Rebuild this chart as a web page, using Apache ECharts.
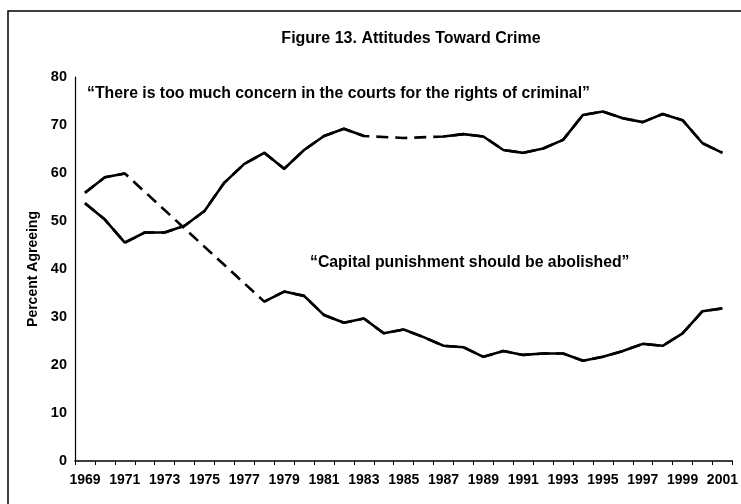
<!DOCTYPE html>
<html>
<head>
<meta charset="utf-8">
<script src="https://cdn.jsdelivr.net/npm/echarts@6/dist/echarts.min.js"></script>
<style>
  html, body { margin: 0; padding: 0; background: #fff; }
  #chart { width: 741px; height: 504px; }
</style>
</head>
<body>
<div id="chart"></div>
<script>
// years on the x axis
var years = []
for (var y = 1969; y <= 2001; y++) years.push(String(y))

// "too much concern in the courts for the rights of criminals" (null = no survey that year)
var courts = [53.7, 50.3, 45.5, 47.6, 47.6, 49.0, 52.1, 58.0, 61.9, 64.2, 60.9, 64.8, 67.7, 69.2, 67.7,
  null, 67.3, null, 67.6, 68.1, 67.6, 64.8, 64.2, 65.1, 66.9, 72.1, 72.8, 71.4, 70.6, 72.3, 71.0, 66.2, 64.2]

// "capital punishment should be abolished"
var capital = [55.9, 59.1, 59.9, null, null, null, null, null, null, 33.2, 35.3, 34.4, 30.4, 28.8, 29.7,
  26.6, 27.4, 25.8, 24.0, 23.7, 21.7, 22.9, 22.1, 22.4, 22.4, 20.9, 21.7, 22.9, 24.4, 24.0, 26.6, 31.2, 31.8]

var yTicks = [0, 10, 20, 30, 40, 50, 60, 70, 80]

var font = 'Liberation Sans, Arial, Helvetica, sans-serif'
var chart = echarts.init(document.getElementById('chart'))

function solid(data) {
  return {
    type: 'line', data: data, connectNulls: false, showSymbol: false, symbol: 'none',
    lineStyle: { color: '#000', width: 2.6 }, z: 3, silent: true
  }
}
function dashed(data) {
  return {
    type: 'line', data: data, connectNulls: true, showSymbol: false, symbol: 'none',
    lineStyle: { color: '#000', width: 2.6, type: [12, 7] }, z: 2, silent: true
  }
}

chart.setOption({
  backgroundColor: '#fff',
  animation: false,
  title: {
    text: 'Figure 13. Attitudes Toward Crime',
    left: 406, top: 26, textAlign: 'center',
    textStyle: { fontFamily: font, fontWeight: 'bold', fontSize: 16, color: '#000' }
  },
  grid: { left: 75, right: 8, top: 77, bottom: 43 },
  xAxis: {
    type: 'category',
    data: years,
    boundaryGap: true,
    axisLine: { lineStyle: { color: '#000', width: 1.5 } },
    axisTick: { show: true, interval: 0, length: 4, lineStyle: { color: '#000' } },
    axisLabel: { interval: 1, color: '#000', fontFamily: font, fontWeight: 'bold', fontSize: 14, margin: 12 },
    splitLine: { show: false }
  },
  yAxis: {
    type: 'value',
    min: yTicks[0], max: yTicks[yTicks.length - 1], interval: 10,
    name: 'Percent Agreeing',
    nameLocation: 'middle',
    nameGap: 35,
    nameTextStyle: { fontFamily: font, fontWeight: 'bold', fontSize: 14, color: '#000' },
    axisLine: { show: true, lineStyle: { color: '#000', width: 1.2 } },
    axisTick: { show: false },
    axisLabel: { color: '#000', fontFamily: font, fontWeight: 'bold', fontSize: 14.5, margin: 8 },
    splitLine: { show: false }
  },
  graphic: [
    {
      type: 'rect', shape: { x: 8, y: 11, width: 760, height: 520 },
      style: { fill: 'none', stroke: '#000', lineWidth: 1.5 }, silent: true, z: 0
    },
    {
      type: 'text', left: 87, top: 86,
      style: { text: '\u201cThere is too much concern in the courts for the rights of criminal\u201d',
        font: 'bold 15.8px ' + font, fill: '#000' }
    },
    {
      type: 'text', left: 310, top: 255,
      style: { text: '\u201cCapital punishment should be abolished\u201d',
        font: 'bold 15.8px ' + font, fill: '#000' }
    }
  ],
  series: [
    dashed(courts), solid(courts),
    dashed(capital), solid(capital)
  ]
})
</script>
</body>
</html>
